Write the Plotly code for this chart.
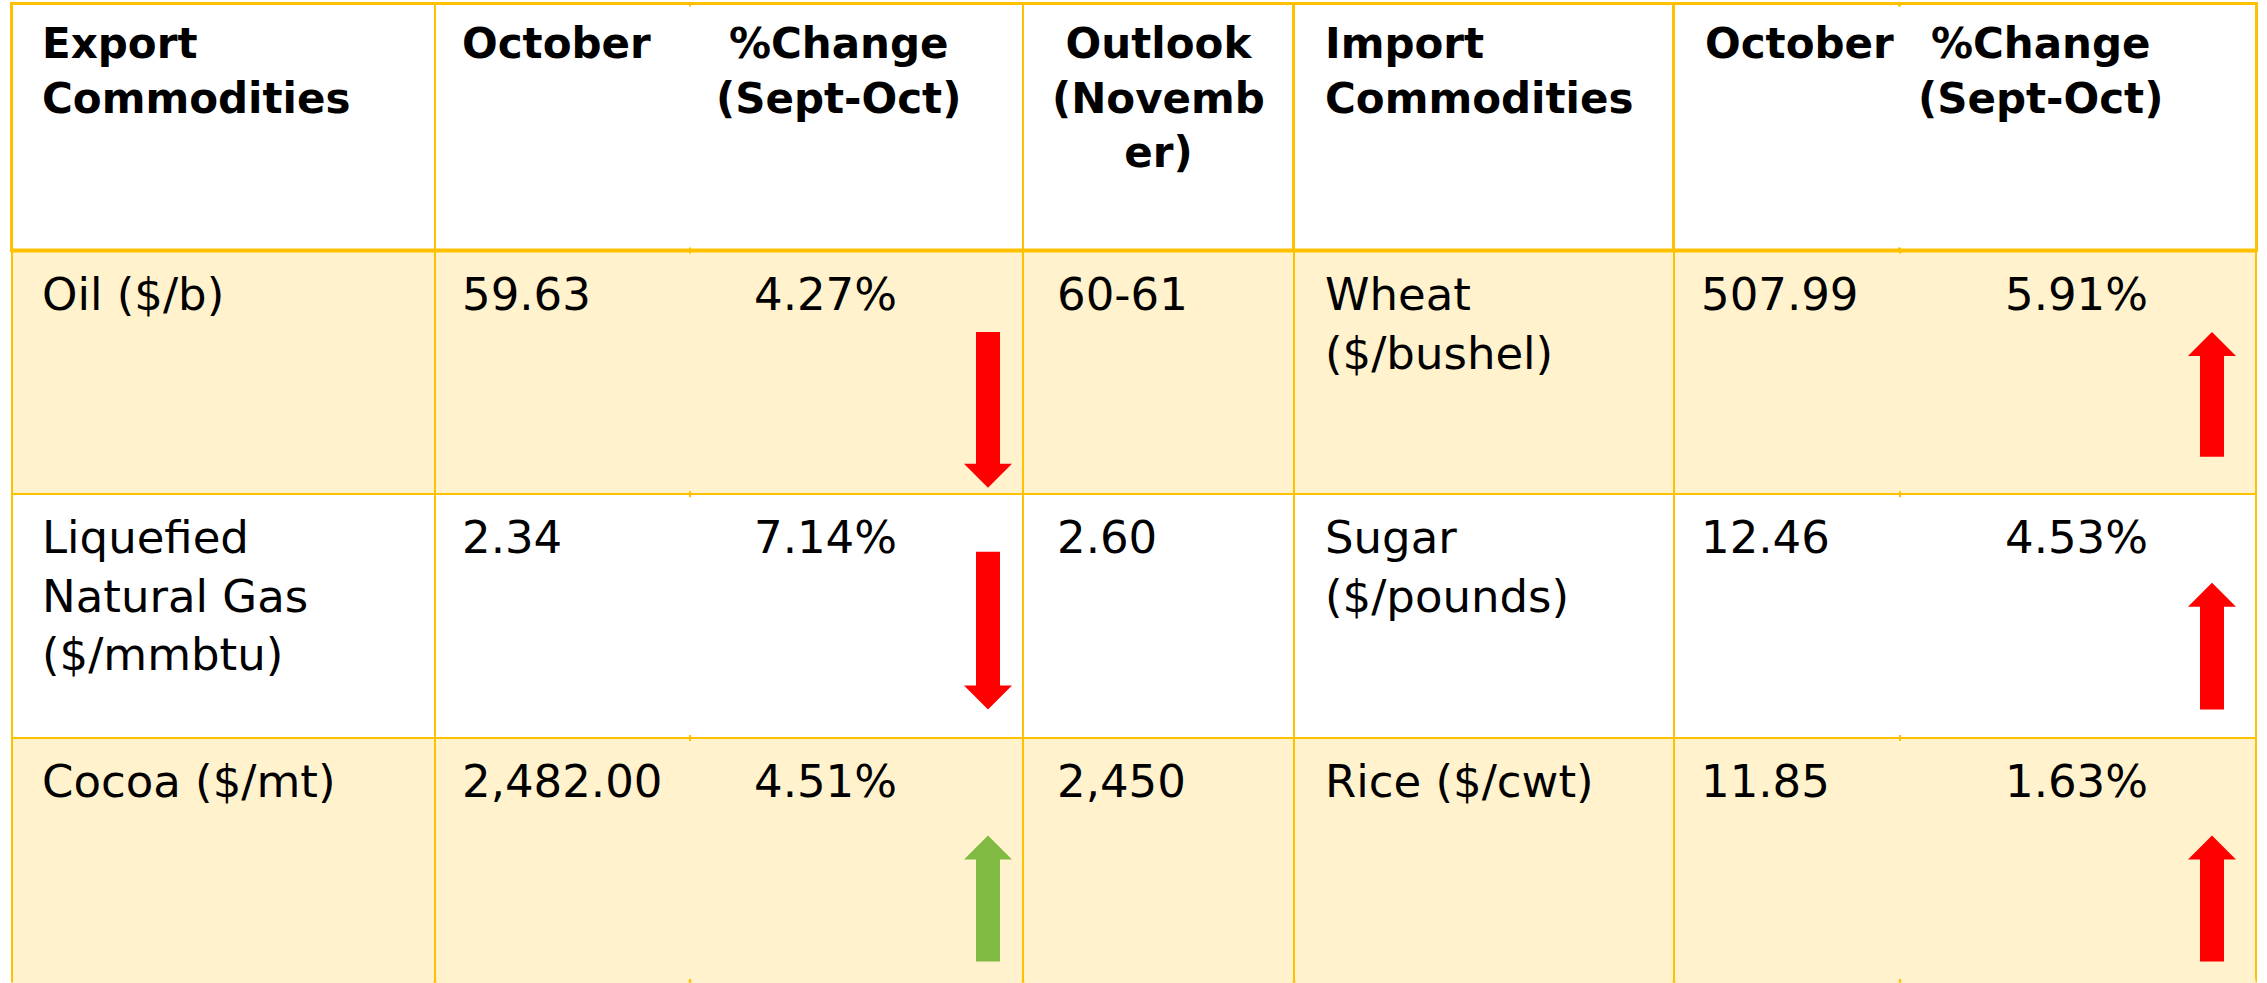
import plotly.graph_objects as go

# ---------------- data ----------------
header_labels = ["Export<br>Commodities", "October", "%Change<br>(Sept-Oct)",
                 "Outlook<br>(Novemb<br>er)", "Import<br>Commodities", "October",
                 "%Change<br>(Sept-Oct)"]
export_commodities = ["Oil ($/b)", "Liquefied<br>Natural Gas<br>($/mmbtu)", "Cocoa ($/mt)"]
export_october = [59.63, 2.34, 2482.00]
export_change_pct = [-4.27, -7.14, 4.51]
outlook_november = ["60-61", "2.60", "2,450"]
import_commodities = ["Wheat<br>($/bushel)", "Sugar<br>($/pounds)", "Rice ($/cwt)"]
import_october = [507.99, 12.46, 11.85]
import_change_pct = [5.91, 4.53, 1.63]

# ---------------- layout / style ----------------
W, H = 2267, 983
COL_EDGES = [11.5, 435, 690, 1023, 1294, 1674, 1900, 2257]
TOP = 3.5
HEADER_H = 247
ROW_H = 243.8
GOLD = "#FFC000"
CREAM = "#FFF2CC"
WHITE = "#FFFFFF"
RED = "#FF0000"
GREEN = "#80BA42"
FONT = "DejaVu Sans"
BODY_SIZE = 45
HEAD_SIZE = 42
HEAD_TEXT_DY = 13      # header text box top below table top
BODY_TEXT_DY = 15      # body text box top below row top
# per column text anchor: (header x, header anchor, body x, body anchor)
TEXT_POS = [
    (40, "left", 40, "left"),
    (460, "left", 460, "left"),
    (838, "center", 825, "center"),
    (1158, "center", 1055, "left"),
    (1323, "left", 1323, "left"),
    (1703, "left", 1699, "left"),
    (2040, "center", 2076, "center"),
]
ROW_FILLS = [CREAM, WHITE, CREAM]
# arrow vertical extent as fraction of row height (export side, import side)
ARROW_FRAC_EXPORT = [(0.334, 0.973), (0.236, 0.883), (0.40, 0.916)]
ARROW_FRAC_IMPORT = [(0.334, 0.846), (0.363, 0.883), (0.40, 0.916)]
ARROW_X = {"export": 988, "import": 2212}
SHAFT_HALF, HEAD_HALF, HEAD_LEN = 12, 24, 24

pct = lambda v: f"{abs(v):.2f}%"
columns = [
    export_commodities,
    [f"{v:,.2f}" for v in export_october],
    [pct(v) for v in export_change_pct],
    outlook_november,
    import_commodities,
    [f"{v:,.2f}" for v in import_october],
    [pct(v) for v in import_change_pct],
]

widths = [COL_EDGES[i + 1] - COL_EDGES[i] for i in range(len(COL_EDGES) - 1)]
n_rows = len(export_commodities)

# table supplies the grid and cell fills; its text is laid on top as annotations
fig = go.Figure(go.Table(
    domain=dict(x=[COL_EDGES[0] / W, COL_EDGES[-1] / W], y=[0, 1 - TOP / H]),
    columnwidth=widths,
    header=dict(
        values=["" for _ in header_labels],
        height=HEADER_H,
        fill=dict(color=WHITE),
        line=dict(color=GOLD, width=2.5),
    ),
    cells=dict(
        values=[["" for _ in col] for col in columns],
        height=ROW_H,
        fill=dict(color=[ROW_FILLS[:n_rows] for _ in widths]),
        line=dict(color=GOLD, width=2),
    ),
))

px = lambda x: x / W
py = lambda y: 1 - y / H

annotations = []
for ci, (hx, ha, bx, ba) in enumerate(TEXT_POS):
    annotations.append(dict(
        text=header_labels[ci], x=px(hx), y=py(TOP + HEAD_TEXT_DY), xref="paper", yref="paper",
        xanchor=ha, yanchor="top", align=ha, showarrow=False,
        font=dict(family=FONT, size=HEAD_SIZE, color="black", weight="bold")))
    for ri, txt in enumerate(columns[ci]):
        rt = TOP + HEADER_H + ri * ROW_H
        annotations.append(dict(
            text=txt, x=px(bx), y=py(rt + BODY_TEXT_DY), xref="paper", yref="paper",
            xanchor=ba, yanchor="top", align=ba, showarrow=False,
            font=dict(family=FONT, size=BODY_SIZE, color="black")))

shapes = []
# hide the separators inside the merged "October / %Change" cells
row_tops = [TOP] + [TOP + HEADER_H + i * ROW_H for i in range(n_rows)]
row_bots = [TOP + HEADER_H] + [TOP + HEADER_H + (i + 1) * ROW_H for i in range(n_rows)]
row_cols = [WHITE] + ROW_FILLS[:n_rows]
for edge in (COL_EDGES[2], COL_EDGES[6]):
    for t, b, c in zip(row_tops, row_bots, row_cols):
        shapes.append(dict(type="rect", xref="paper", yref="paper",
                           x0=px(edge - 3), x1=px(edge + 3), y0=py(b - 3), y1=py(t + 3),
                           fillcolor=c, line=dict(width=0), layer="above"))

# heavier rule under the header row
shapes.append(dict(type="line", xref="paper", yref="paper",
                   x0=px(COL_EDGES[0]), x1=px(COL_EDGES[-1]),
                   y0=py(TOP + HEADER_H), y1=py(TOP + HEADER_H),
                   line=dict(color=GOLD, width=4), layer="above"))
# the last row runs off the bottom of the picture: no closing rule
bottom = TOP + HEADER_H + n_rows * ROW_H
for i in range(len(widths)):
    shapes.append(dict(type="rect", xref="paper", yref="paper",
                       x0=px(COL_EDGES[i] + 1.5), x1=px(COL_EDGES[i + 1] - 1.5),
                       y0=0, y1=py(bottom - 2.5),
                       fillcolor=ROW_FILLS[n_rows - 1], line=dict(width=0), layer="above"))


def arrow_path(cx, y_start, y_tip):
    d = 1 if y_tip > y_start else -1
    yh = y_tip - d * HEAD_LEN
    pts = [(cx - SHAFT_HALF, y_start), (cx + SHAFT_HALF, y_start), (cx + SHAFT_HALF, yh),
           (cx + HEAD_HALF, yh), (cx, y_tip), (cx - HEAD_HALF, yh), (cx - SHAFT_HALF, yh)]
    return "M " + " L ".join(f"{px(x):.6f},{py(y):.6f}" for x, y in pts) + " Z"


for side, changes, fracs in (("export", export_change_pct, ARROW_FRAC_EXPORT),
                             ("import", import_change_pct, ARROW_FRAC_IMPORT)):
    for i, v in enumerate(changes):
        rt = TOP + HEADER_H + i * ROW_H
        y_hi, y_lo = rt + fracs[i][0] * ROW_H, rt + fracs[i][1] * ROW_H
        up = v > 0
        good = (side == "export") == up
        color = GREEN if good else RED
        path = arrow_path(ARROW_X[side], y_lo, y_hi) if up else arrow_path(ARROW_X[side], y_hi, y_lo)
        shapes.append(dict(type="path", xref="paper", yref="paper", path=path,
                           fillcolor=color, line=dict(width=0), layer="above"))

fig.update_layout(
    width=W, height=H,
    margin=dict(l=0, r=0, t=0, b=0),
    paper_bgcolor=WHITE,
    plot_bgcolor=WHITE,
    shapes=shapes,
    annotations=annotations,
)

fig.write_html("out.html", config={"displayModeBar": False},
               post_script="document.body.style.margin='0px';document.body.style.overflow='hidden';")
